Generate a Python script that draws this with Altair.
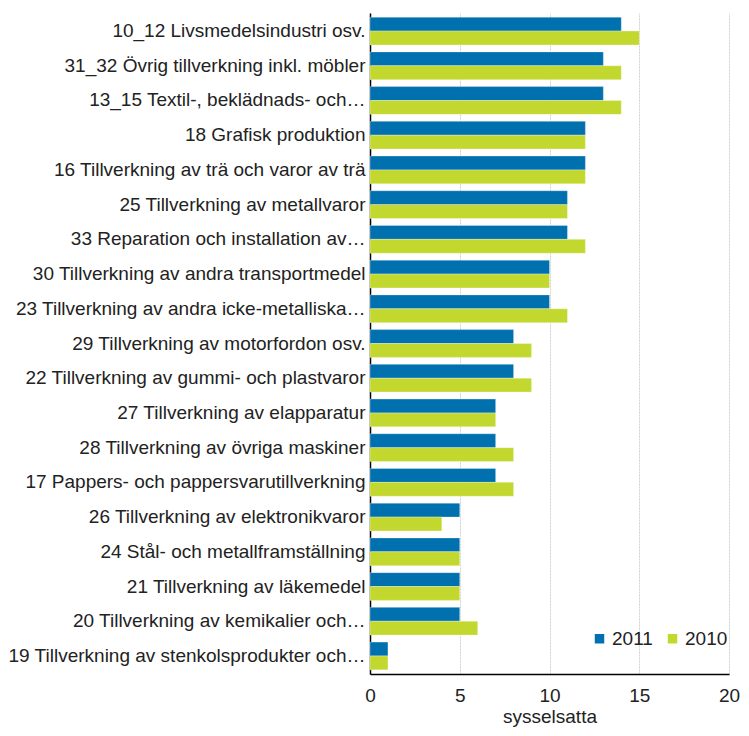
import altair as alt
import pandas as pd

categories = [
    "10_12 Livsmedelsindustri osv.",
    "31_32 Övrig tillverkning inkl. möbler",
    "13_15 Textil-, beklädnads- och…",
    "18 Grafisk produktion",
    "16 Tillverkning av trä och varor av trä",
    "25 Tillverkning av metallvaror",
    "33 Reparation och installation av…",
    "30 Tillverkning av andra transportmedel",
    "23 Tillverkning av andra icke-metalliska…",
    "29 Tillverkning av motorfordon osv.",
    "22 Tillverkning av gummi- och plastvaror",
    "27 Tillverkning av elapparatur",
    "28 Tillverkning av övriga maskiner",
    "17 Pappers- och pappersvarutillverkning",
    "26 Tillverkning av elektronikvaror",
    "24 Stål- och metallframställning",
    "21 Tillverkning av läkemedel",
    "20 Tillverkning av kemikalier och…",
    "19 Tillverkning av stenkolsprodukter och…",
]
values_2011 = [14, 13, 13, 12, 12, 11, 11, 10, 10, 8, 8, 7, 7, 7, 5, 5, 5, 5, 1]
values_2010 = [15, 14, 14, 12, 12, 11, 12, 10, 11, 9, 9, 7, 8, 8, 4, 5, 5, 6, 1]
series = ["2011", "2010"]
colors = ["#0070AF", "#C2D82E"]

rows = []
for c, a, b in zip(categories, values_2011, values_2010):
    rows.append({"cat": c, "year": "2011", "v": a})
    rows.append({"cat": c, "year": "2010", "v": b})
df = pd.DataFrame(rows)

font = "Liberation Sans"
fs = 19

chart = alt.Chart(df).mark_bar(stroke="white", strokeWidth=0.5, strokeOpacity=0.6).encode(
    y=alt.Y("cat:N", sort=categories, title=None,
            scale=alt.Scale(paddingInner=0.2, paddingOuter=0.12),
            axis=alt.Axis(labelFontSize=19, labelColor="#222", labelFont=font,
                          ticks=False, labelPadding=5, domainColor="#000",
                          domainWidth=1.5, labelLimit=500)),
    yOffset=alt.YOffset("year:N", sort=series),
    x=alt.X("v:Q", title="sysselsatta",
            scale=alt.Scale(domain=[0, 20]),
            axis=alt.Axis(values=[0, 5, 10, 15, 20], labelFontSize=fs, labelColor="#222",
                          labelFont=font, titleFont=font, titleFontSize=fs,
                          titleFontWeight="normal", titleColor="#222",
                          labelFlush=False,
                          ticks=False, labelPadding=12, titlePadding=2,
                          domainColor="#000", domainWidth=1.5,
                          gridColor="#d0d0d0", gridDash=[2, 1])),
    color=alt.Color("year:N", sort=series,
                    scale=alt.Scale(domain=series, range=colors),
                    legend=alt.Legend(title=None, orient="none", legendX=220, legendY=616,
                                      direction="horizontal", symbolType="square",
                                      symbolSize=90, labelFontSize=fs, labelFont=font,
                                      labelColor="#222", columnPadding=10, labelOffset=3,
                                      symbolStrokeWidth=0)),
).properties(
    width=359, height=661,
    autosize=alt.AutoSizeParams(type="none"),
    padding={"left": 362, "top": 5, "right": 12, "bottom": 54},
).configure_view(stroke=None)

chart.save("out.html", embed_options={"renderer": "svg", "actions": False})
